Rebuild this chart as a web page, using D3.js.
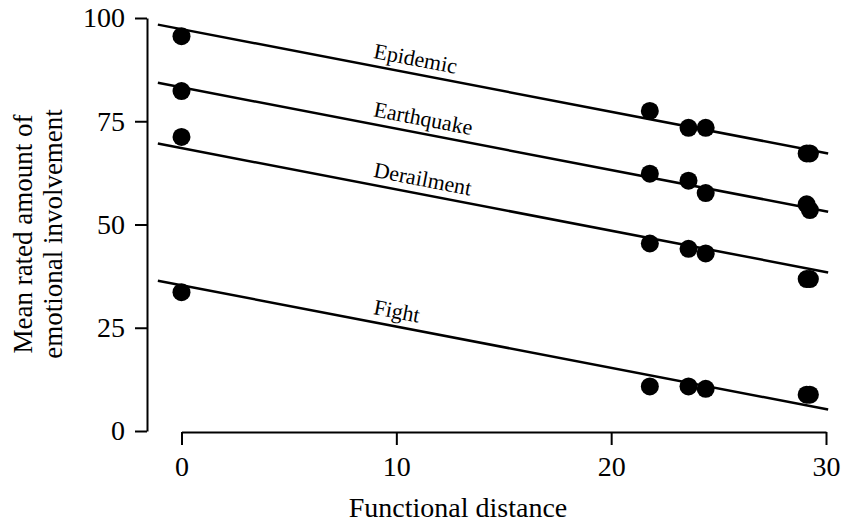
<!DOCTYPE html>
<html>
<head>
<meta charset="utf-8">
<script src="https://cdn.jsdelivr.net/npm/d3@7"></script>
<style>
  body { margin: 0; background: #fff; }
  svg text { font-family: "Liberation Serif", "Times New Roman", serif; fill: #000; }
</style>
</head>
<body>
<svg id="chart" width="843" height="522"></svg>
<script>
// functional distance of each rated event (x)
const distances = [0, 21.8, 23.6, 24.4, 29.1, 29.25];
// mean rated amount of emotional involvement per disaster type
const epidemic   = [95.6, 77.5, 73.4, 73.4, 67.2, 67.2];
const earthquake = [82.3, 62.3, 60.6, 57.6, 54.9, 53.5];
const derailment = [71.2, 45.4, 44.1, 43.0, 36.8, 36.8];
const fight      = [33.6, 10.8, 10.8, 10.2, 8.8, 8.8];
const seriesNames = ['Epidemic', 'Earthquake', 'Derailment', 'Fight'];
// fitted regression lines: value at x = 0 and slope
const intercepts = [97.3, 83.2, 68.5, 35.3];
const slopes = [-1.0, -1.0, -1.0, -1.0];
const lineExtent = [-1.1, 30.1];
const labelAt = 8.9;
const xTicks = [0, 10, 20, 30];
const yTicks = [0, 25, 50, 75, 100];

const series = [epidemic, earthquake, derailment, fight];

const svg = d3.select('#chart');
const x = d3.scaleLinear().domain([0, 30]).range([181.5, 826]);
const y = d3.scaleLinear().domain([0, 100]).range([431, 18]);

// axes (detached range-frame style)
const yAxis = d3.axisLeft(y).tickValues(yTicks).tickSize(12).tickSizeOuter(0).tickPadding(10);
const gy = svg.append('g').attr('transform', 'translate(147,0)').call(yAxis);
gy.selectAll('text').style('font-size', '28px');
gy.selectAll('path, line').attr('stroke', '#000').attr('stroke-width', 2);

const xAxis = d3.axisBottom(x).tickValues(xTicks).tickSize(13).tickSizeOuter(0).tickPadding(11);
const gx = svg.append('g').attr('transform', 'translate(0,432)').call(xAxis);
gx.selectAll('text').style('font-size', '28px');
gx.selectAll('path, line').attr('stroke', '#000').attr('stroke-width', 2);
svg.selectAll('.domain').attr('fill', 'none');

svg.append('text')
  .attr('x', 458).attr('y', 517)
  .attr('text-anchor', 'middle')
  .style('font-size', '28px')
  .text('Functional distance');

const yTitle = svg.append('text')
  .attr('transform', 'translate(0,234) rotate(-90)')
  .attr('text-anchor', 'middle')
  .style('font-size', '27px');
yTitle.append('tspan').attr('x', 0).attr('y', 32).text('Mean rated amount of');
yTitle.append('tspan').attr('x', 0).attr('y', 62).text('emotional involvement');

// regression lines
const lineGen = d3.line().x(d => x(d[0])).y(d => y(d[1]));
const angle = Math.atan2(y(slopes[0]) - y(0), x(1) - x(0)) * 180 / Math.PI;

seriesNames.forEach((name, i) => {
  const pts = lineExtent.map(v => [v, intercepts[i] + slopes[i] * v]);
  svg.append('path')
    .datum(pts)
    .attr('d', lineGen)
    .attr('fill', 'none')
    .attr('stroke', '#000')
    .attr('stroke-width', 2.5);

  const lx = x(labelAt), ly = y(intercepts[i] + slopes[i] * labelAt) - 8;
  svg.append('text')
    .attr('transform', `translate(${lx},${ly}) rotate(${angle})`)
    .style('font-size', '22px')
    .text(name);

  svg.append('g').selectAll('circle')
    .data(series[i].map((v, j) => [distances[j], v]))
    .join('circle')
    .attr('cx', d => x(d[0]))
    .attr('cy', d => y(d[1]))
    .attr('r', 9)
    .attr('fill', '#000');
});
</script>
</body>
</html>
